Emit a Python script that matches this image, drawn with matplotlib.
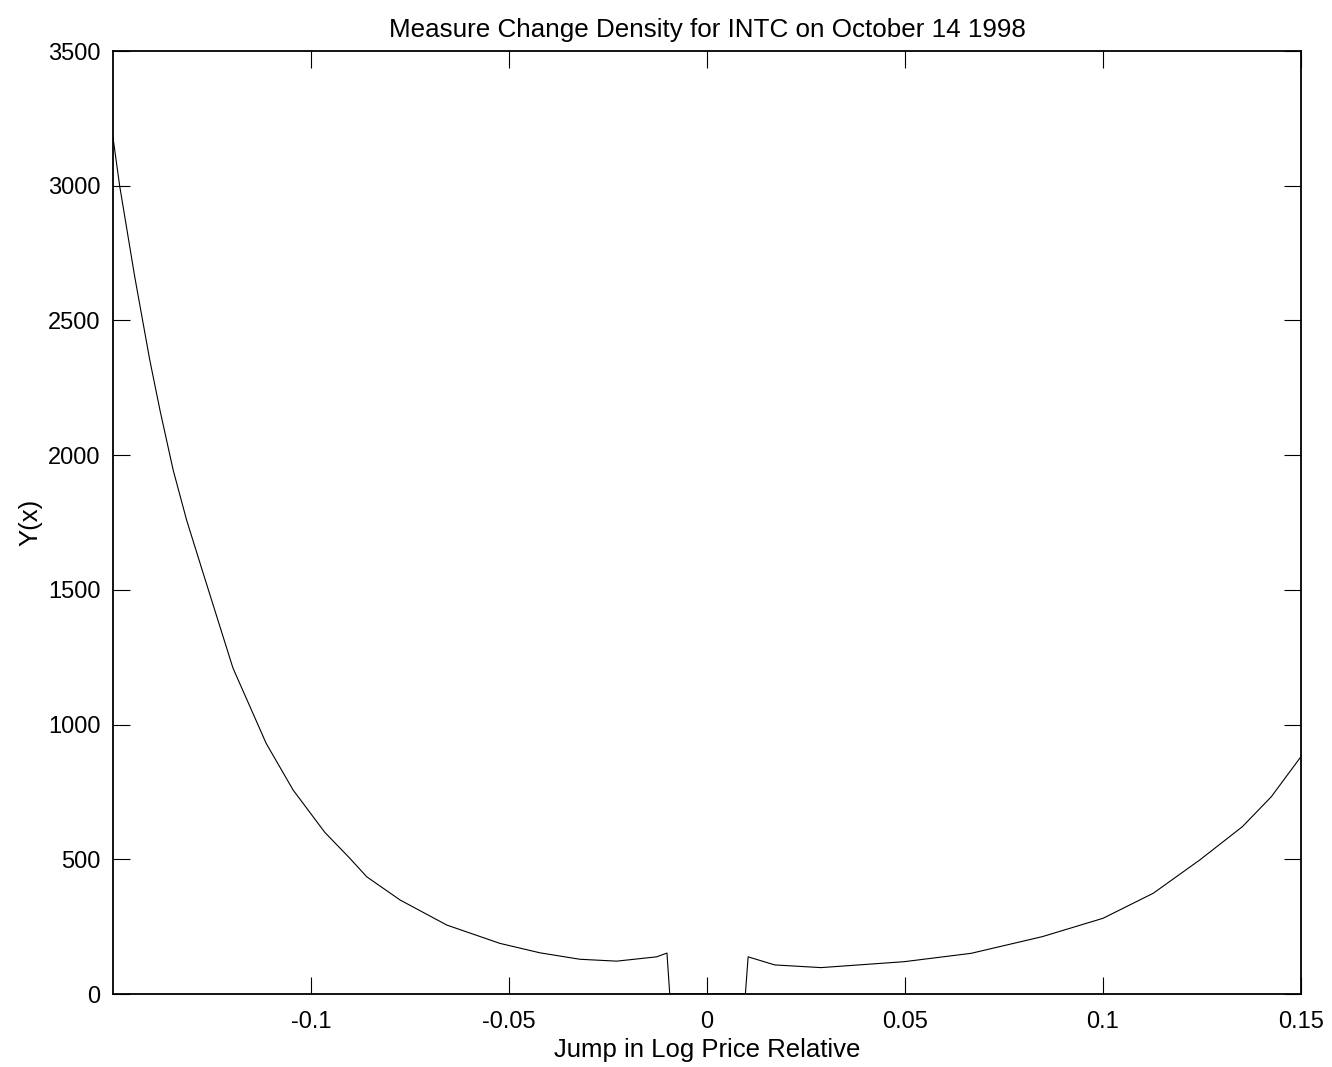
import matplotlib
matplotlib.use("Agg")
from matplotlib import pyplot as plt

plt.rcParams["font.family"] = ["Liberation Sans", "DejaVu Sans"]

# values
jump = [-0.15, -0.1483, -0.1445, -0.1407, -0.1381, -0.1348, -0.1314, -0.1272,
        -0.1197, -0.1113, -0.1045, -0.0965, -0.0902,
        -0.0859, -0.0775, -0.0657, -0.0523, -0.0422, -0.0321, -0.0228, -0.0127,
        -0.0101, -0.0094,
        0.0097, 0.0104, 0.0171, 0.0288, 0.0498, 0.0667, 0.0847, 0.1, 0.1127,
        0.1244, 0.1352, 0.1425, 0.15]
density = [3180, 2999, 2662, 2353, 2165, 1945, 1759, 1561,
           1210, 930, 757, 600, 504,
           435, 349, 256, 188, 153, 129, 122, 138,
           152, 0,
           0, 138, 108, 98, 120, 151, 213, 281, 374,
           497, 621, 732, 881]
xticks = [-0.1, -0.05, 0, 0.05, 0.1, 0.15]
xlabels = ["-0.1", "-0.05", "0", "0.05", "0.1", "0.15"]
yticks = [0, 500, 1000, 1500, 2000, 2500, 3000, 3500]

fig = plt.figure(figsize=(13.32, 10.67), dpi=100)
ax = fig.add_axes([0.0848, 0.0684, 0.8919, 0.8838])
ax.plot(jump, density, color="black", lw=0.8, solid_joinstyle="round")
ax.set_xlim(-0.15, 0.15)
ax.set_ylim(0, 3500)
ax.set_xticks(xticks)
ax.set_xticklabels(xlabels)
ax.set_yticks(yticks)
ax.tick_params(direction="in", length=12, width=0.8, labelsize=17,
               top=True, right=True)
ax.tick_params(axis="x", pad=12)
ax.tick_params(axis="y", pad=9)
for s in ax.spines.values():
    s.set_linewidth(1.3)
ax.set_title("Measure Change Density for INTC on October 14 1998", fontsize=18.7, pad=10)
ax.set_xlabel("Jump in Log Price Relative", fontsize=18.5, labelpad=4)
ax.set_ylabel("Y(x)", fontsize=18.5, labelpad=4)
plt.savefig("out.png")
